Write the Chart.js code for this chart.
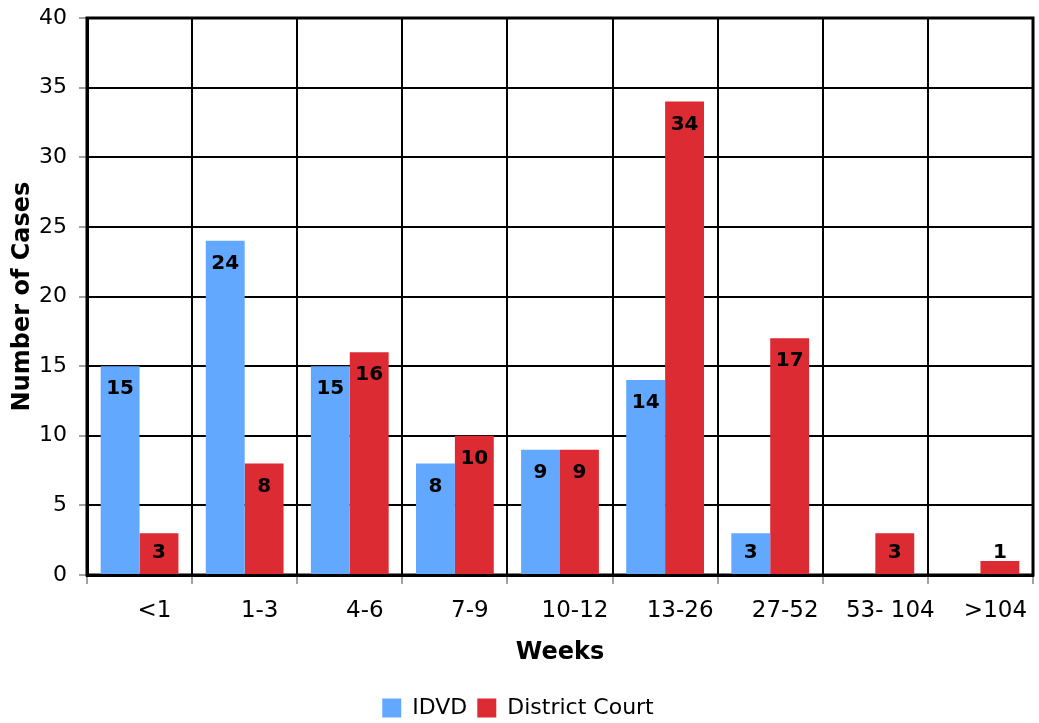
<!DOCTYPE html>
<html>
<head>
<meta charset="utf-8">
<script src="https://cdn.jsdelivr.net/npm/chart.js@4.4.1/dist/chart.umd.min.js"></script>
<style>
  html, body { margin: 0; padding: 0; background: #ffffff; }
  #wrap { width: 1039px; height: 723px; position: relative; }
</style>
</head>
<body>
<div id="wrap"><canvas id="c" width="1039" height="723"></canvas></div>
<script>
const categories = ['<1', '1-3', '4-6', '7-9', '10-12', '13-26', '27-52', '53- 104', '>104'];
const idvdValues = [15, 24, 15, 8, 9, 14, 3, 0, 0];
const districtCourtValues = [3, 8, 16, 10, 9, 34, 17, 3, 1];
const seriesNames = ['IDVD', 'District Court'];
const yTicks = [0, 5, 10, 15, 20, 25, 30, 35, 40];
const xTitle = 'Weeks';
const yTitle = 'Number of Cases';

const frameBorder = {
  id: 'frameBorder',
  beforeDatasetsDraw(chart) {
    const a = chart.chartArea, ctx = chart.ctx;
    ctx.save();
    ctx.strokeStyle = '#000';
    ctx.lineWidth = 3;
    ctx.strokeRect(a.left, a.top, a.right - a.left, a.bottom - a.top);
    ctx.restore();
  }
};

const valueLabels = {
  id: 'valueLabels',
  afterDatasetsDraw(chart) {
    const ctx = chart.ctx;
    const base = chart.scales.y.getPixelForValue(0);
    ctx.save();
    ctx.font = 'bold 20px "DejaVu Sans"';
    ctx.fillStyle = '#000';
    ctx.textAlign = 'center';
    ctx.textBaseline = 'middle';
    chart.data.datasets.forEach((ds, i) => {
      const meta = chart.getDatasetMeta(i);
      meta.data.forEach((el, j) => {
        const v = ds.data[j];
        if (!v) return;
        const y = Math.min(el.y + 23, base - 22);
        ctx.fillText(String(v), el.x, y);
      });
    });
    ctx.restore();
  }
};

new Chart(document.getElementById('c'), {
  type: 'bar',
  data: {
    labels: categories,
    datasets: [
      { label: seriesNames[0], data: idvdValues, backgroundColor: '#62A8FF', borderWidth: 0,
        categoryPercentage: 0.74, barPercentage: 1.0 },
      { label: seriesNames[1], data: districtCourtValues, backgroundColor: '#DC2B33', borderWidth: 0,
        categoryPercentage: 0.74, barPercentage: 1.0 }
    ]
  },
  options: {
    responsive: false,
    animation: false,
    layout: { padding: { top: 18, right: 6, bottom: -6, left: 3 } },
    plugins: {
      legend: {
        position: 'bottom',
        labels: {
          boxWidth: 19, boxHeight: 19, padding: 10,
          color: '#000',
          font: { family: '"DejaVu Sans"', size: 22 }
        }
      },
      tooltip: { enabled: false }
    },
    scales: {
      x: {
        offset: true,
        afterFit(scale) { scale.height = 112; },
        grid: { display: true, offset: true, color: '#000', lineWidth: 2,
                drawTicks: true, tickLength: 9, tickColor: '#444', tickWidth: 1 },
        border: { display: true, color: '#000', width: 3 },
        ticks: { color: '#000', padding: 13, labelOffset: 15, maxRotation: 0, autoSkip: false,
                 font: { family: '"DejaVu Sans"', size: 23 } },
        title: { display: true, text: xTitle, color: '#000',
                 font: { family: '"DejaVu Sans"', size: 24, weight: 'bold' },
                 padding: { top: 5, bottom: 20 } }
      },
      y: {
        min: 0, max: 40,
        afterBuildTicks(scale) { scale.ticks = yTicks.map(v => ({ value: v })); },
        afterFit(scale) { scale.width = 84; scale.paddingTop = 0; scale.paddingBottom = 0; },
        grid: { color: '#000', lineWidth: 2, drawTicks: true, tickLength: 8, tickColor: '#444', tickWidth: 1 },
        border: { display: true, color: '#000', width: 3 },
        ticks: { color: '#000', padding: 12, font: { family: '"DejaVu Sans"', size: 22 } },
        title: { display: true, text: yTitle, color: '#000',
                 font: { family: '"DejaVu Sans"', size: 24, weight: 'bold' },
                 padding: { top: 5, bottom: 1 } }
      }
    }
  },
  plugins: [frameBorder, valueLabels]
});
</script>
</body>
</html>
